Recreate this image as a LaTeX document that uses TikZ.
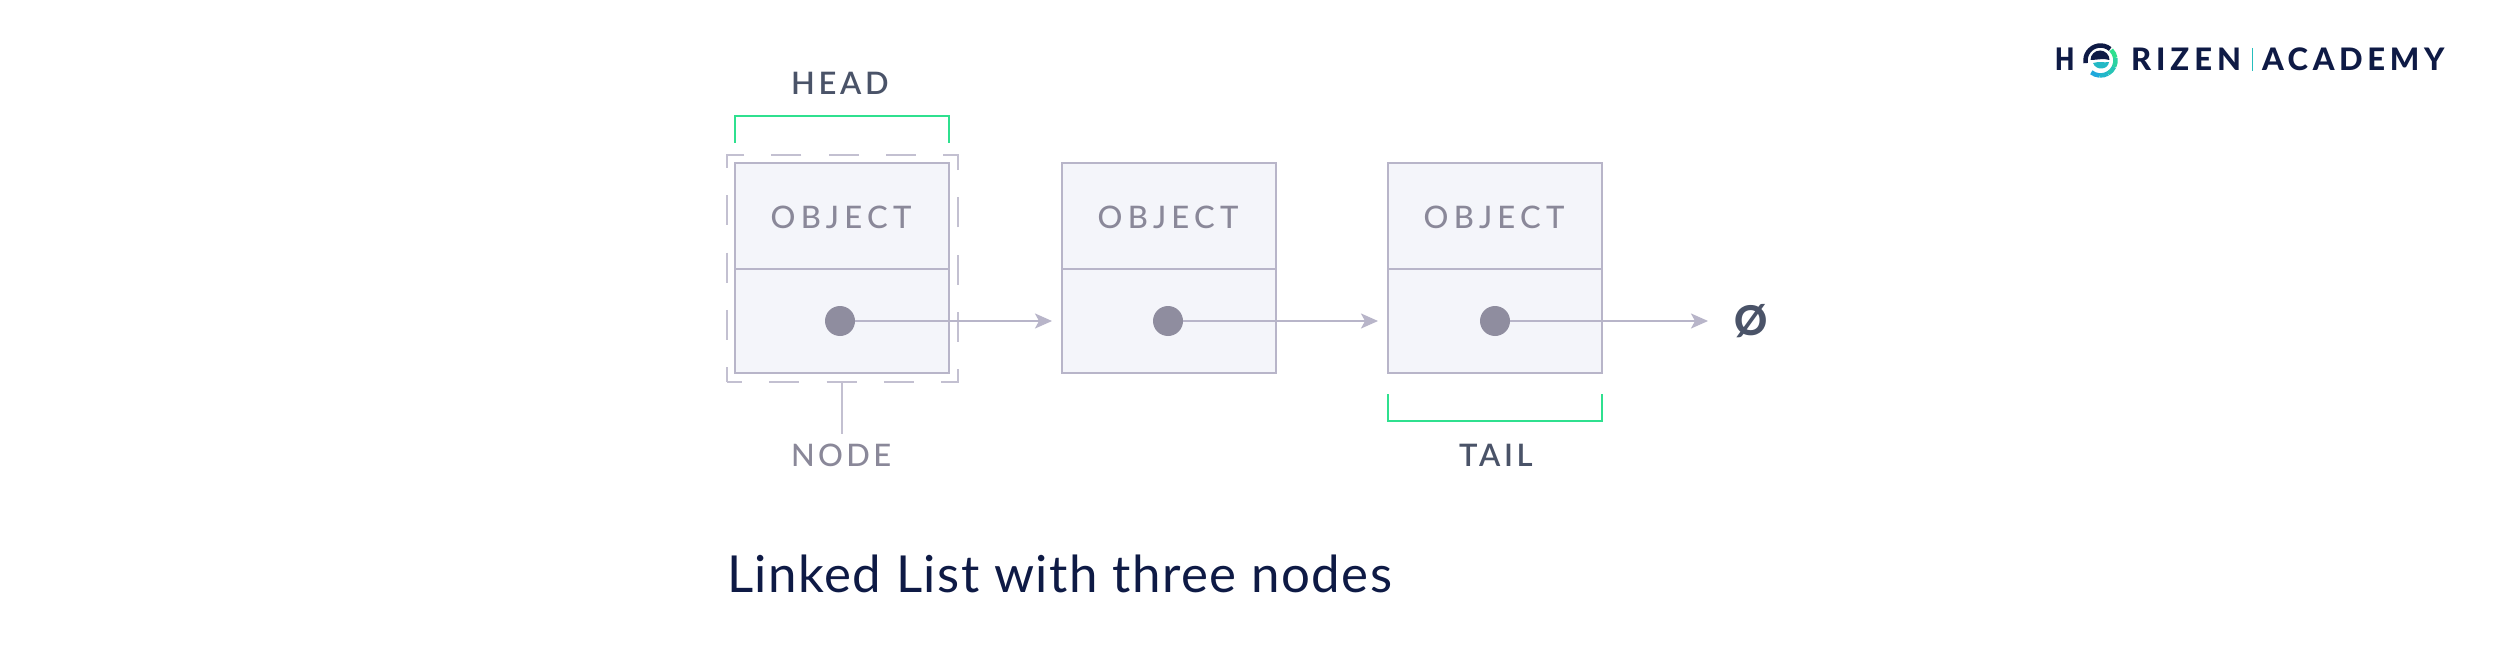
\documentclass[tikz,border=0pt]{standalone}
\usepackage{fontspec}
\setmainfont{Lato}
\newfontfamily\lblfont[LetterSpace=11]{Lato Medium}
\newfontfamily\lblbold[LetterSpace=12]{Lato Semibold}
\newfontfamily\objfont[LetterSpace=17]{Lato Medium}
\newfontfamily\logofont[LetterSpace=16]{Lato Heavy}
\newfontfamily\logofontb[LetterSpace=15]{Lato Heavy}
\newfontfamily\logofontc{Lato Black}
\newfontfamily\titlefont[LetterSpace=3]{Lato}
\newfontfamily\nulfont{Lato Heavy}
\usetikzlibrary{arrows.meta,positioning}
\definecolor{edgeC}{HTML}{B8B5C9}
\definecolor{fillC}{HTML}{F4F5FA}
\definecolor{dotC}{HTML}{8F8D9F}
\definecolor{objC}{HTML}{8A8899}
\definecolor{darkC}{HTML}{4A5368}
\definecolor{greenC}{HTML}{2FE08F}
\definecolor{navyC}{HTML}{0E1A45}
\definecolor{blueC}{HTML}{1FA8DC}
\tikzset{
  x=1pt,y=-1pt,
  every node/.style={inner sep=0pt,outer sep=0pt},
  cell/.style={draw=edgeC,fill=fillC,line width=2pt,minimum width=214pt,anchor=north west},
  topcell/.style={cell,minimum height=106pt},
  botcell/.style={cell,minimum height=104pt},
  objtext/.style={anchor=center,font=\objfont\fontsize{31}{31}\selectfont,text=objC},
  dotn/.style={circle,fill=dotC,minimum size=30pt},
  link/.style={draw=edgeC,line width=2pt,-{Stealth[length=17pt,width=15pt,inset=4pt]}},
  lab/.style={anchor=base west,font=\lblfont\fontsize{31}{31}\selectfont,text=objC},
  labdark/.style={anchor=base west,font=\lblbold\fontsize{31}{31}\selectfont,text=darkC},
  bracket/.style={draw=greenC,line width=2pt},
  logot/.style={anchor=base west,font=\logofont\fontsize{31}{31}\selectfont,text=navyC},
  logotb/.style={anchor=base west,font=\logofontb\fontsize{31}{31}\selectfont,text=navyC},
  logoth/.style={anchor=base west,font=\logofontc\fontsize{31}{31}\selectfont,text=navyC},
  sellink/.style={draw=edgeC!85,line width=1.6pt},
}
\begin{document}
\begin{tikzpicture}
\useasboundingbox (0,0) rectangle (2501,658);
\fill[white] (0,0) rectangle (2501,658);
% nodes
\node[topcell] (t1) at (735,163) {}; \node[botcell] (b1) at (735,269) {};
\node[topcell] (t2) at (1062,163) {}; \node[botcell] (b2) at (1062,269) {};
\node[topcell] (t3) at (1388,163) {}; \node[botcell] (b3) at (1388,269) {};
\node[objtext] (o1) at (841,217) {OBJECT};
\node[objtext] (o2) at (1168,217) {OBJECT};
\node[objtext] (o3) at (1494,217) {OBJECT};
\node[dotn] (d1) at (840,321) {};
\node[dotn] (d2) at (1168,321) {};
\node[dotn] (d3) at (1495,321) {};
\node[sellink,dash pattern=on 30pt off 27.25pt,dash phase=15pt,minimum width=231pt,minimum height=227pt,anchor=north west] (sel) at (727,155) {};
\node[anchor=center,font=\nulfont\fontsize{41}{41}\selectfont,text=darkC] (nul) at (1751,321) {Ø};
\coordinate (end3) at (1708,321);
\coordinate (lead) at (842,434);
\node[labdark] (head) at (791,95) {HEAD};
\node[lab] (nodel) at (791,466) {NODE};
\node[labdark] (tail) at (1459,466) {TAIL};
\node[anchor=base west,font=\titlefont\fontsize{51}{51}\selectfont,text=navyC] (title) at (727,592) {Linked List with three nodes};
% connectors
\draw[link,shorten >=10pt] (d1) -- (b2.west |- d1);
\draw[link,shorten >=10pt] (d2) -- (b3.west |- d2);
\draw[link] (d3) -- (end3);
\draw[sellink] (sel.south -| lead) -- (lead);
\draw[bracket] (735,143) -- (735,116) -- (949,116) -- (949,143);
\draw[bracket] (1388,394) -- (1388,421) -- (1602,421) -- (1602,394);
% logo
\node[logoth,xscale=0.8] (lh) at (2055,71) {H};
\node[logot] (lr) at (2131,71) {RIZEN};
\node[logotb] (la) at (2262,71) {ACADEMY};
\draw[blueC!60!greenC,line width=1pt] (2252,48) -- (2252,71);
\draw[navyC,line width=4.5pt] (2100.5,60.5) ++(-190:15) arc (-190:-50:15);
\foreach \a/\b/\m in {-45/-10/0,-10/25/25,25/60/50,60/95/75,95/128/100}
  \draw[blueC!\m!greenC,line width=4.5pt] (2100.5,60.5) ++(\a:15) arc (\a:\b:15);
\fill[navyC] (2100,60) ++(-180:9.5) arc (-180:0:9.5) .. controls (2104,58) and (2096,60) .. cycle;
\fill[blueC!70!greenC] (2093,63) .. controls (2099,61) and (2104,63) .. (2109,62) .. controls (2108,70) and (2096,71) .. cycle;
\end{tikzpicture}
\end{document}
